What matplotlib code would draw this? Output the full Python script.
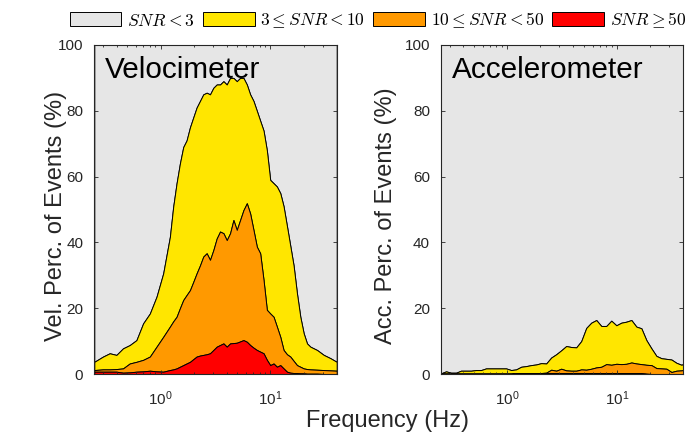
import matplotlib
matplotlib.use("Agg")
import matplotlib.pyplot as plt
from matplotlib.font_manager import FontProperties

# ---------------- data ----------------
vel_freq = [0.25, 0.300, 0.345, 0.397, 0.456, 0.525, 0.604, 0.695, 0.800, 0.920,
            1.058, 1.217, 1.305, 1.400, 1.501, 1.610, 1.726, 1.853, 1.986, 2.130,
            2.284, 2.449, 2.628, 2.818, 3.025, 3.243, 3.477, 3.732, 4.000, 4.292,
            4.602, 4.934, 5.293, 5.675, 6.092, 6.531, 7.003, 7.514, 8.057, 8.645,
            9.268, 9.94, 10.66, 11.43, 12.27, 13.15, 14.11, 15.13, 16.22, 17.41,
            18.67, 20.03, 21.48, 23.05, 26.5, 30.5, 35.1, 40.0]
vel_snr3 = [3.7, 5.3, 6.3, 5.8, 7.8, 8.8, 10.3, 15.4, 18.4, 23.5,
            30.6, 41.7, 50.9, 58.0, 64.0, 69.0, 71.0, 75.0, 78.0, 81.0,
            83.0, 85.0, 85.5, 85.0, 87.0, 88.0, 88.0, 89.0, 88.0, 90.0,
            90.0, 89.0, 90.0, 90.0, 88.0, 85.0, 83.0, 80.0, 77.0, 74.0,
            68.0, 59.0, 58.0, 57.0, 55.0, 51.0, 45.0, 39.0, 33.0, 24.5,
            17.4, 12.4, 9.3, 8.3, 7.3, 5.8, 4.8, 3.7]
vel_snr10 = [1.2, 1.4, 1.4, 1.5, 1.7, 3.2, 3.7, 4.3, 5.3, 8.3,
             11.3, 14.4, 16.0, 17.4, 20.0, 22.5, 24.0, 25.5, 28.0, 30.6,
             33.0, 35.7, 36.7, 34.7, 37.7, 41.2, 43.3, 42.8, 40.7, 42.8,
             46.8, 43.8, 46.8, 49.8, 51.9, 48.8, 43.8, 38.7, 36.7, 28.6,
             19.5, 18.4, 17.4, 14.4, 11.3, 7.3, 6.0, 5.3, 4.0, 2.7,
             2.2, 1.7, 1.5, 1.4, 1.3, 1.2, 1.1, 1.0]
vel_snr50 = [0.7, 0.7, 0.7, 0.7, 0.4, 0.5, 0.7, 0.8, 1.0, 0.8,
             0.7, 1.2, 1.4, 1.7, 2.2, 2.7, 3.2, 3.7, 4.5, 5.3,
             5.6, 5.8, 6.0, 6.3, 7.3, 8.3, 8.8, 9.3, 8.3, 9.3,
             9.4, 9.5, 9.9, 10.3, 9.8, 8.8, 8.0, 7.3, 6.8, 6.3,
             4.3, 2.7, 3.2, 2.2, 2.7, 1.7, 0.7, 0.4, 0.3, 0.3,
             0.2, 0.2, 0.1, 0.1, 0.1, 0.0, 0.0, 0.0]

acc_freq = [0.25, 0.278, 0.308, 0.343, 0.380, 0.423, 0.469, 0.521, 0.579, 0.643,
            0.715, 0.794, 0.882, 0.979, 1.088, 1.208, 1.342, 1.491, 1.656, 1.840,
            2.044, 2.270, 2.521, 2.800, 3.110, 3.455, 3.838, 4.263, 4.735, 5.259,
            5.842, 6.489, 7.208, 8.006, 8.893, 9.878, 10.97, 12.19, 13.54, 15.04,
            16.70, 18.55, 20.61, 22.89, 25.42, 28.24, 31.37, 34.84, 38.70, 40.0]
acc_snr3 = [0.2, 0.8, 0.4, 0.4, 1.0, 1.0, 1.0, 1.2, 1.2, 1.7,
            1.7, 1.7, 1.7, 1.7, 1.2, 1.4, 2.2, 2.4, 2.7, 2.9,
            3.3, 3.2, 5.0, 6.0, 7.2, 8.5, 8.2, 8.1, 10.0, 14.0,
            15.6, 16.4, 14.6, 14.6, 16.2, 14.8, 15.6, 15.9, 16.4, 14.4,
            13.9, 10.3, 7.8, 5.5, 4.8, 4.6, 4.4, 3.4, 2.8, 3.0]
acc_snr10 = [0.2, 0.2, 0.2, 0.2, 0.2, 0.2, 0.2, 0.2, 0.2, 0.2,
             0.2, 0.2, 0.2, 0.2, 0.2, 0.2, 0.2, 0.3, 0.3, 0.3,
             0.3, 0.4, 1.3, 1.0, 1.6, 1.1, 1.0, 1.0, 1.4, 1.3,
             1.6, 2.0, 2.2, 3.0, 2.8, 3.1, 3.0, 3.1, 3.5, 3.2,
             3.0, 2.8, 2.7, 1.8, 1.7, 1.6, 0.6, 1.0, 1.1, 1.2]
acc_snr50 = [0.0, 0.0, 0.0, 0.0, 0.0, 0.0, 0.0, 0.0, 0.0, 0.0,
             0.0, 0.0, 0.0, 0.0, 0.0, 0.3, 0.3, 0.3, 0.3, 0.3,
             0.3, 0.3, 0.3, 0.3, 0.3, 0.3, 0.3, 0.3, 0.3, 0.3,
             0.3, 0.3, 0.3, 0.3, 0.3, 0.3, 0.3, 0.3, 0.3, 0.3,
             0.3, 0.1, 0.0, 0.0, 0.0, 0.0, 0.0, 0.0, 0.0, 0.0]

legend_labels = [r"$SNR<3$", r"$3\leq SNR<10$", r"$10\leq SNR<50$", r"$SNR\geq 50$"]
panel_titles = ["Velocimeter", "Accelerometer"]
y_labels = ["Vel. Perc. of Events (%)", "Acc. Perc. of Events (%)"]
y_ticks = [0, 20, 40, 60, 80, 100]

# ---------------- style ----------------
plt.rcParams['font.family'] = ['Liberation Sans', 'DejaVu Sans']
GRAY = '#e6e6e6'
YEL = '#ffe600'
ORA = '#ff9900'
RED = '#ff0000'
AXC = '#262626'

fig = plt.figure(figsize=(6.87, 4.36), dpi=100)
W, H = 687, 436
ax1 = fig.add_axes([94.3 / W, 1 - 374 / H, 242.4 / W, 329 / H])
ax2 = fig.add_axes([441 / W, 1 - 374 / H, 242 / W, 329 / H])

handles = None
for ax, f, s3, s10, s50, title, ylab, lx in [
        (ax1, vel_freq, vel_snr3, vel_snr10, vel_snr50, panel_titles[0], y_labels[0], -0.113),
        (ax2, acc_freq, acc_snr3, acc_snr10, acc_snr50, panel_titles[1], y_labels[1], -0.183)]:
    kw = dict(edgecolor='k', linewidth=0.7)
    h0 = ax.fill_between(f, s3, 100, facecolor=GRAY, **kw)
    h1 = ax.fill_between(f, s10, s3, facecolor=YEL, **kw)
    h2 = ax.fill_between(f, s50, s10, facecolor=ORA, **kw)
    h3 = ax.fill_between(f, 0, s50, facecolor=RED, **kw)
    if handles is None:
        handles = [h0, h1, h2, h3]
    ax.set_xscale('log')
    ax.set_xlim(0.25, 40)
    ax.set_ylim(0, 100)
    ax.set_yticks(y_ticks)
    ax.tick_params(which='both', direction='in', top=True, right=True,
                   colors=AXC, labelsize=11, width=0.6)
    ax.tick_params(which='major', length=3)
    ax.tick_params(which='minor', length=1.6)
    ax.tick_params(axis='y', pad=8)
    ax.tick_params(axis='x', pad=11)
    for sp in ax.spines.values():
        sp.set_color(AXC)
        sp.set_linewidth(0.8)
    ax.set_ylabel(ylab, fontsize=17, color=AXC)
    ax.yaxis.set_label_coords(lx, 0.48)
    ax.text(0.044, 0.90, title, transform=ax.transAxes, fontsize=21.4,
            ha='left', va='baseline', color='k')

fig.text(388 / W, 1 - 421 / H, 'Frequency (Hz)', fontsize=17, ha='center',
         va='center', color=AXC)

leg_prop = FontProperties(size=12.6, math_fontfamily='cm')
fig.legend(handles, legend_labels, loc='center', bbox_to_anchor=(378 / W, 1 - 20.5 / H),
           ncol=4, frameon=False, prop=leg_prop, handlelength=2.95, handleheight=0.85,
           handletextpad=0.33, columnspacing=0.45, borderpad=0.2)

fig.savefig('out.png', dpi=100)
